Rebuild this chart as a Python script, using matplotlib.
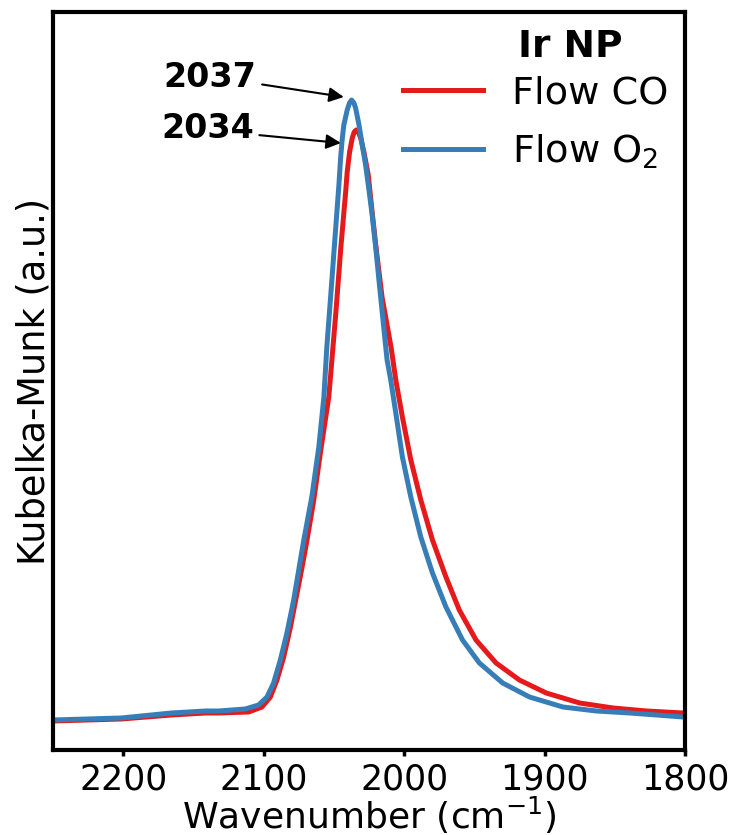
import matplotlib
matplotlib.use("Agg")
import matplotlib.pyplot as plt

# Wavenumber (cm^-1) and Kubelka-Munk intensity (a.u.)
wn_co = [2250.0, 2201.4, 2165.7, 2141.4, 2132.1, 2110.7, 2101.2, 2095.2, 2090.5, 2085.7,
         2080.9, 2076.2, 2072.6, 2069.1, 2064.3, 2059.3, 2053.6, 2048.6, 2045.0, 2041.6,
         2040.5, 2038.8, 2036.9, 2035.5, 2034.1, 2032.5, 2030.9, 2028.6, 2025.5, 2022.9,
         2020.0, 2015.7, 2009.3, 2005.9, 2001.2, 1995.2, 1988.1, 1979.8, 1970.2, 1960.7,
         1948.8, 1934.5, 1917.9, 1898.8, 1875.0, 1851.2, 1827.4, 1801.4, 1800.0]
km_co = [0.029, 0.031, 0.035, 0.037, 0.037, 0.038, 0.043, 0.053, 0.070, 0.093,
         0.123, 0.157, 0.183, 0.210, 0.250, 0.300, 0.353, 0.437, 0.503, 0.558,
         0.578, 0.598, 0.612, 0.618, 0.620, 0.618, 0.612, 0.598, 0.575, 0.540,
         0.503, 0.453, 0.403, 0.370, 0.333, 0.290, 0.250, 0.210, 0.173, 0.140,
         0.110, 0.087, 0.070, 0.057, 0.047, 0.042, 0.039, 0.037, 0.037]

wn_o2 = [2250.0, 2201.4, 2165.7, 2141.4, 2132.1, 2113.1, 2103.6, 2097.6, 2092.9, 2088.1,
         2083.4, 2078.6, 2075.0, 2071.4, 2065.7, 2060.7, 2057.1, 2055.0, 2051.4, 2047.9,
         2046.4, 2045.2, 2044.1, 2042.9, 2040.5, 2038.9, 2037.4, 2035.7, 2034.5, 2032.1,
         2029.8, 2027.4, 2025.0, 2022.9, 2020.0, 2017.9, 2014.3, 2012.1, 2009.5, 2005.9,
         2001.2, 1995.2, 1988.1, 1979.8, 1970.2, 1958.4, 1946.4, 1929.8, 1910.7, 1886.9,
         1863.1, 1839.3, 1801.4, 1800.0]
km_o2 = [0.030, 0.032, 0.037, 0.039, 0.039, 0.041, 0.045, 0.053, 0.067, 0.090,
         0.117, 0.150, 0.180, 0.210, 0.253, 0.303, 0.353, 0.403, 0.470, 0.537,
         0.565, 0.592, 0.610, 0.625, 0.640, 0.647, 0.650, 0.647, 0.642, 0.625,
         0.605, 0.585, 0.560, 0.537, 0.500, 0.470, 0.420, 0.390, 0.370, 0.337,
         0.293, 0.253, 0.213, 0.177, 0.143, 0.110, 0.087, 0.067, 0.053, 0.043,
         0.039, 0.037, 0.033, 0.033]

labels = ["Flow CO", "Flow O$_2$"]
legend_title = "Ir NP"
colors = ["#E41A1C", "#377EB8"]
peak_labels = ["2037", "2034"]
peak_targets = [(2042.9, 0.653), (2045.0, 0.607)]
xticks = [2200, 2100, 2000, 1900, 1800]

fig = plt.figure(figsize=(7.35, 8.35), dpi=100)
ax = fig.add_axes([0.072, 0.1018, 0.860, 0.8838])

ax.plot(wn_co, km_co, color=colors[0], lw=3.6, label=labels[0], solid_joinstyle="round")
ax.plot(wn_o2, km_o2, color=colors[1], lw=3.6, label=labels[1], solid_joinstyle="round")

ax.set_xlim(2250, 1800)
ax.set_ylim(0.0, 0.738)
ax.set_xticks(xticks)
ax.set_yticks([])
ax.tick_params(axis="x", labelsize=25, direction="out", length=4, width=2.5, pad=5)
for s in ax.spines.values():
    s.set_linewidth(3)

ax.set_xlabel("Wavenumber (cm$^{-1}$)", fontsize=26, labelpad=-1)
ax.set_ylabel("Kubelka-Munk (a.u.)", fontsize=26.5, labelpad=0)

# peak annotations
text_pos = [(2105, 0.673), (2107, 0.622)]
for lab, tp, tgt in zip(peak_labels, text_pos, peak_targets):
    ax.annotate(lab, xy=tgt, xytext=tp, fontsize=24, fontweight="bold",
                ha="right", va="center",
                arrowprops=dict(arrowstyle="-|>", color="black", lw=1.5,
                                mutation_scale=22, shrinkA=2, shrinkB=0,
                                relpos=(1.0, 0.3)))

leg = ax.legend(loc="upper left", frameon=False, fontsize=27.5,
                handlelength=2.1, handletextpad=0.75, labelspacing=0.55,
                borderpad=0.0, borderaxespad=0.0, bbox_to_anchor=(0.5538, 0.914))
ax.text(0.7358, 0.939, legend_title, transform=ax.transAxes, fontsize=27,
        fontweight="bold", ha="left", va="baseline")

fig.savefig("out.png", dpi=100)
